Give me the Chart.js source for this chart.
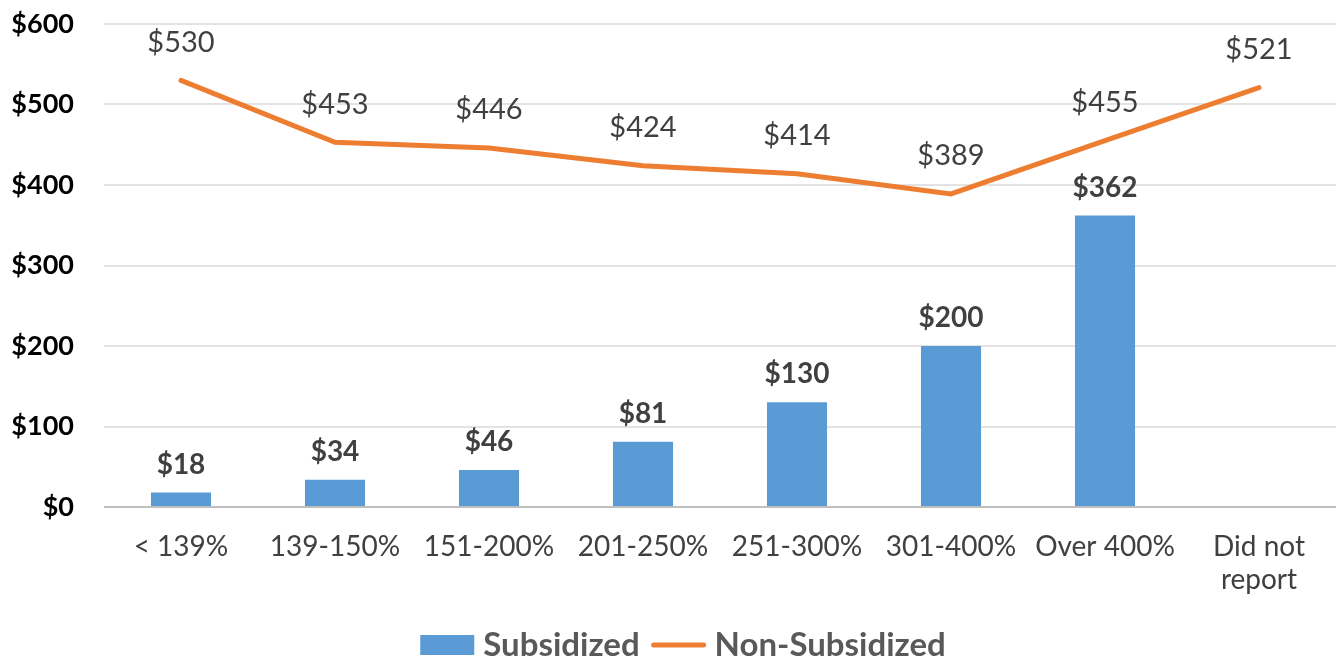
<!DOCTYPE html>
<html>
<head>
<meta charset="utf-8">
<script src="https://cdn.jsdelivr.net/npm/chart.js@4.4.1/dist/chart.umd.min.js"></script>
<style>
  html, body { margin: 0; padding: 0; background: #fff; }
  #wrap { width: 1336px; height: 662px; }
</style>
</head>
<body>
<div id="wrap"><canvas id="chart"></canvas></div>
<script>
// ---- data ----
const categories = ["< 139%", "139-150%", "151-200%", "201-250%", "251-300%", "301-400%", "Over 400%", ["Did not", "report"]];
const subsidized = [18, 34, 46, 81, 130, 200, 362, null];
const nonSubsidized = [530, 453, 446, 424, 414, 389, 455, 521];
const yTicks = [0, 100, 200, 300, 400, 500, 600];

const FONT = "Lato, 'Open Sans', sans-serif";
const BLUE = "#5B9BD5";
const ORANGE = "#ED7D31";

// value labels drawn above bars / line points
const valueLabels = {
    id: "valueLabels",
    afterDatasetsDraw(chart) {
        const ctx = chart.ctx;
        ctx.save();
        ctx.textAlign = "center";
        ctx.textBaseline = "middle";
        ctx.fillStyle = "#404040";
        chart.data.datasets.forEach((ds, di) => {
            const meta = chart.getDatasetMeta(di);
            meta.data.forEach((el, i) => {
                const v = ds.data[i];
                if (v == null) return;
                if (ds.type === "bar") {
                    ctx.font = "bold 28px " + FONT;
                    ctx.fillText("$" + v, el.x, el.y - 28);
                } else {
                    ctx.font = "29px " + FONT;
                    ctx.fillText("$" + v, el.x, el.y - 38);
                }
            });
        });
        ctx.restore();
    }
};

// bottom legend: swatch + bold label, centred
const bottomLegend = {
    id: "bottomLegend",
    afterDraw(chart) {
        const ctx = chart.ctx;
        const y = 645;
        ctx.save();
        ctx.font = "bold 33px " + FONT;
        ctx.textBaseline = "middle";
        ctx.textAlign = "left";
        const items = chart.data.datasets.map(ds => ({ ds, w: ctx.measureText(ds.label).width }));
        const sw = 54, gap = 9, itemGap = 12;
        const total = items.reduce((t, it) => t + sw + gap + it.w, 0) + itemGap * (items.length - 1);
        let x = 683 - total / 2;
        items.forEach(({ ds, w }) => {
            if (ds.type === "bar") {
                ctx.fillStyle = ds.backgroundColor;
                ctx.fillRect(x, y - 10, sw, 20);
            } else {
                ctx.strokeStyle = ds.borderColor;
                ctx.lineWidth = ds.borderWidth;
                ctx.lineCap = "round";
                ctx.beginPath();
                ctx.moveTo(x + 2, y);
                ctx.lineTo(x + sw - 2, y);
                ctx.stroke();
            }
            ctx.fillStyle = "#595959";
            ctx.fillText(ds.label, x + sw + gap, y);
            x += sw + gap + w + itemGap;
        });
        ctx.restore();
    }
};

new Chart(document.getElementById("chart"), {
    data: {
        labels: categories,
        datasets: [
            {
                type: "bar", label: "Subsidized", data: subsidized,
                backgroundColor: BLUE, borderWidth: 0,
                categoryPercentage: 1, barPercentage: 0.39, order: 2
            },
            {
                type: "line", label: "Non-Subsidized", data: nonSubsidized,
                borderColor: ORANGE, backgroundColor: ORANGE, borderWidth: 5,
                pointRadius: 0, tension: 0,
                borderCapStyle: "round", order: 1
            }
        ]
    },
    options: {
        responsive: true, maintainAspectRatio: false, animation: false,
        layout: { padding: { top: 24, right: 0, left: 0, bottom: 0 } },
        plugins: {
            tooltip: { enabled: false },
            legend: { display: false }
        },
        scales: {
            x: {
                afterFit(s) { s.height = 155; },
                grid: { display: false },
                border: { display: false },
                ticks: {
                    color: "#404040", padding: 15,
                    font: { family: FONT, size: 28 }, maxRotation: 0, autoSkip: false
                }
            },
            y: {
                min: 0, max: 600,
                afterFit(s) { s.width = 104; s.paddingTop = 0; s.paddingBottom = 0; },
                afterBuildTicks(s) { s.ticks = yTicks.map(v => ({ value: v })); },
                grid: {
                    color: ctx => ctx.tick && ctx.tick.value === 0 ? "#bfbfbf" : "#e3e3e3",
                    lineWidth: 2, drawTicks: false
                },
                border: { display: false },
                ticks: {
                    color: "#000", padding: 30,
                    font: { family: FONT, size: 27, weight: "bold" },
                    callback: v => "$" + v
                }
            }
        }
    },
    plugins: [valueLabels, bottomLegend]
});
</script>
</body>
</html>
